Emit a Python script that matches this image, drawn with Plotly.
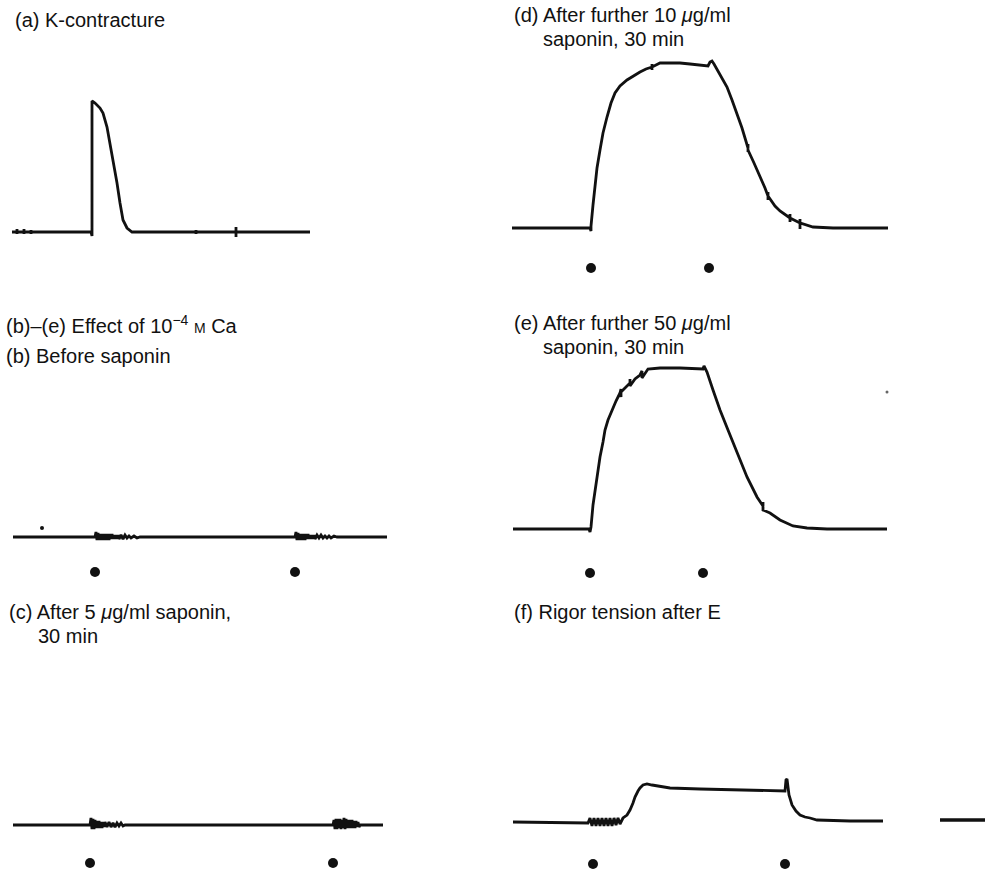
import plotly.graph_objects as go

W, H = 1005, 872
INK = "#111111"
FONT = "Liberation Sans, Arial, Helvetica, sans-serif"

# ---------------- data (time: arbitrary units, tension: arbitrary units, 0 = resting) -------------
# (a) K-contracture
t_a = [0, 5, 5, 5, 5, 12, 12, 12, 12, 19, 19, 19, 19, 79, 80, 80, 83, 88, 91, 95, 98, 101, 105,
       108, 111, 115, 120, 128, 184, 184, 184, 184, 224, 224, 224, 224, 298]
f_a = [0, 0, 3, -2, 0, 0, 3, -2, 0, 0, 2, -2, 0, 0, -4, 131, 129, 124, 119, 105, 89, 69, 49,
       29, 12, 4, 0, 0, 0, 2, -2, 0, 0, 5, -5, 0, 0]

# (b) before saponin
t_b = [0, 82, 83, 84, 85, 86, 87, 88, 89, 90, 91, 92, 93, 94, 95, 96, 97, 98, 99, 100, 101, 102,
       103, 104, 105, 106, 108, 110, 112, 114, 116, 118, 121, 124, 127,
       282, 283, 284, 285, 286, 287, 288, 289, 290, 291, 292, 293, 294, 295, 296, 297, 298, 299,
       300, 301, 302, 304, 306, 308, 310, 312, 314, 316, 318, 321, 324, 374]
f_b = [0, 0, 5, -3, 4, -3, 3, -3, 3, -3, 3, -3, 3, -3, 3, -3, 3, -2, 3, -2, 2, -2,
       2, -2, 2, -2, 2, -2, 2, -1, 1, -1, 1, -1, 0,
       0, 5, -3, 4, -3, 3, -3, 3, -3, 3, -3, 3, -2, 3, -2, 2, -2, 2,
       -2, 2, -2, 2, -1, 2, -1, 1, -1, 1, -1, 1, 0, 0]
stray_b_t = [29]
stray_b_f = [9]

# (c) after 5 ug/ml saponin, 30 min
t_c = [0, 77, 78, 79, 80, 81, 82, 83, 84, 85, 86, 87, 88, 89, 90, 91, 92, 94, 96, 98, 100, 102,
       104, 106, 108, 110, 112,
       320, 321, 322, 323, 324, 325, 326, 327, 328, 329, 330, 331, 332, 333, 334, 335, 336, 337,
       338, 339, 340, 341, 342, 343, 344, 345, 346, 347, 370]
f_c = [0, 0, 7, -4, 6, -4, 5, -3, 4, -3, 4, -3, 3, -3, 3, -2, 3, -2, 3, -2, 2, -2,
       2, -1, 2, -1, 0,
       0, 5, -4, 6, -4, 6, -3, 6, -4, 5, -3, 7, -4, 6, -3, 5, -3, 5,
       -3, 5, -3, 4, -3, 4, -2, 3, -2, 0, 0]

# (d) after further 10 ug/ml saponin, 30 min
t_d = [0, 78, 79, 79, 81, 83, 85, 88, 91, 95, 99, 103, 108, 115, 121, 128, 134, 140, 140, 140, 140,
       148, 158, 168, 178, 188, 196, 198, 200, 202, 208, 215, 220, 225, 230, 236, 236, 236, 236,
       242, 248, 253, 256, 256, 256, 256, 263, 268, 278, 278, 278, 278, 288, 288, 288, 288,
       301, 321, 376]
f_d = [0, 0, -3, 2, 23, 41, 60, 78, 95, 111, 125, 135, 142, 148, 152, 156, 159, 161, 164, 158, 161,
       165, 165, 165, 164, 163, 162, 166, 167, 164, 154, 141, 128, 115, 100, 80, 84, 76, 78,
       65, 52, 40, 32, 36, 28, 32, 22, 17, 10, 14, 6, 10, 5, 9, -1, 5,
       1, 0, 0]

# (e) after further 50 ug/ml saponin, 30 min
t_e = [0, 76, 77, 78, 80, 82, 85, 87, 90, 92, 95, 99, 103, 107, 108, 108, 107, 112, 117, 117, 117,
       122, 127, 129, 129, 135, 147, 167, 182, 190, 191, 193, 194, 200, 207, 215, 224, 234, 244,
       250, 250, 250, 257, 267, 280, 294, 314, 374]
f_e = [0, 0, -3, 2, 24, 39, 57, 72, 87, 99, 109, 119, 128, 136, 140, 132, 136, 141, 146, 150, 143,
       150, 154, 158, 151, 160, 161, 161, 160, 160, 163, 158, 157, 139, 119, 99, 76, 52, 32,
       23, 27, 19, 16, 9, 3, 1, 0, 0]
stray_e_t = [374]
stray_e_f = [137]

# (f) rigor tension after E
t_f = [0, 75, 77, 79, 81, 83, 85, 87, 89, 91, 93, 95, 97, 99, 101, 103, 105, 107, 109,
       110, 114, 117, 120, 122, 125, 127, 130, 134, 139, 144, 157, 187, 224, 247, 270,
       272, 273, 274, 275, 276, 279, 283, 287, 292, 297, 304, 337, 370]
f_f = [-1, -2, 3, -5, 3, -5, 3, -5, 3, -5, 3, -5, 3, -5, 3, -4, 3, -3, 1,
       3, 6, 11, 18, 24, 30, 33, 36, 37, 36, 35, 33, 32, 31, 31, 30,
       30, 41, 42, 34, 26, 16, 10, 6, 4, 3, 1, 0, 0]
bar_f_t = [427, 472]
bar_f_f = [1, 1]

# Ca application markers (time of solution change)
dots_b = [82, 282]
dots_c = [77, 320]
dots_d = [79, 197]
dots_e = [77, 190]
dots_f = [80, 272]

# ---------------- layout helpers ----------------
panels = {
    "a": dict(x0=12, y0=232, L=0, R=502, T=0, B=290),
    "b": dict(x0=13, y0=537, L=0, R=502, T=290, B=590),
    "c": dict(x0=13, y0=825, L=0, R=502, T=590, B=872),
    "d": dict(x0=512, y0=228, L=502, R=1005, T=0, B=290),
    "e": dict(x0=513, y0=529, L=502, R=1005, T=290, B=590),
    "f": dict(x0=513, y0=821, L=502, R=1005, T=590, B=872),
}
dot_level = {"b": -35, "c": -38, "d": -40, "e": -44, "f": -43}

fig = go.Figure()
layout_axes = {}
order = ["a", "b", "c", "d", "e", "f"]
axid = {}
for i, k in enumerate(order, start=1):
    p = panels[k]
    xa = "xaxis" if i == 1 else f"xaxis{i}"
    ya = "yaxis" if i == 1 else f"yaxis{i}"
    axid[k] = ("x" if i == 1 else f"x{i}", "y" if i == 1 else f"y{i}")
    layout_axes[xa] = dict(domain=[p["L"] / W, p["R"] / W],
                           range=[p["L"] - p["x0"], p["R"] - p["x0"]],
                           visible=False, fixedrange=True, anchor=axid[k][1])
    layout_axes[ya] = dict(domain=[1 - p["B"] / H, 1 - p["T"] / H],
                           range=[p["y0"] - p["B"], p["y0"] - p["T"]],
                           visible=False, fixedrange=True, anchor=axid[k][0])

def line(k, t, f, width=2.8):
    xa, ya = axid[k]
    fig.add_trace(go.Scatter(x=t, y=f, mode="lines", xaxis=xa, yaxis=ya,
                             line=dict(color=INK, width=width, shape="linear"),
                             hoverinfo="skip"))

def dots(k, t, size=10):
    xa, ya = axid[k]
    fig.add_trace(go.Scatter(x=t, y=[dot_level[k]] * len(t), mode="markers", xaxis=xa, yaxis=ya,
                             marker=dict(color=INK, size=size), hoverinfo="skip"))

line("a", t_a, f_a)
line("b", t_b, f_b)
line("c", t_c, f_c)
line("d", t_d, f_d)
line("e", t_e, f_e)
line("f", t_f, f_f)
line("f", bar_f_t, bar_f_f, width=3.4)

dots("b", dots_b)
dots("c", dots_c)
dots("d", dots_d)
dots("e", dots_e)
dots("f", dots_f)

fig.add_trace(go.Scatter(x=stray_b_t, y=stray_b_f, mode="markers", xaxis=axid["b"][0],
                         yaxis=axid["b"][1], marker=dict(color=INK, size=4), hoverinfo="skip"))
fig.add_trace(go.Scatter(x=stray_e_t, y=stray_e_f, mode="markers", xaxis=axid["e"][0],
                         yaxis=axid["e"][1], marker=dict(color="#666666", size=3), hoverinfo="skip"))

# ---------------- titles ----------------
mu = "<i>μ</i>"
titles = [
    (13, 20, "(a) K-contracture"),
    (4, 324, "(b)–(e) Effect of 10<sup>−4</sup> "
             "<span style='font-size:14px;color:#111111'>M</span> Ca"),
    (4, 356, "(b) Before saponin"),
    (7, 612, f"(c) After 5 {mu}g/ml saponin,"),
    (36, 636, "30 min"),
    (512, 15, f"(d) After further 10 {mu}g/ml"),
    (541, 39, "saponin, 30 min"),
    (512, 323, f"(e) After further 50 {mu}g/ml"),
    (541, 347, "saponin, 30 min"),
    (512, 612, "(f) Rigor tension after E"),
]
annotations = [
    dict(x=x / W, y=1 - y / H, xref="paper", yref="paper", text=txt, showarrow=False,
         xanchor="left", yanchor="middle", font=dict(family=FONT, size=20, color=INK))
    for x, y, txt in titles
]

fig.update_layout(
    width=W, height=H, margin=dict(l=0, r=0, t=0, b=0),
    paper_bgcolor="white", plot_bgcolor="white", showlegend=False,
    annotations=annotations, **layout_axes,
)

fig.write_html("out.html", config={"displayModeBar": False})
